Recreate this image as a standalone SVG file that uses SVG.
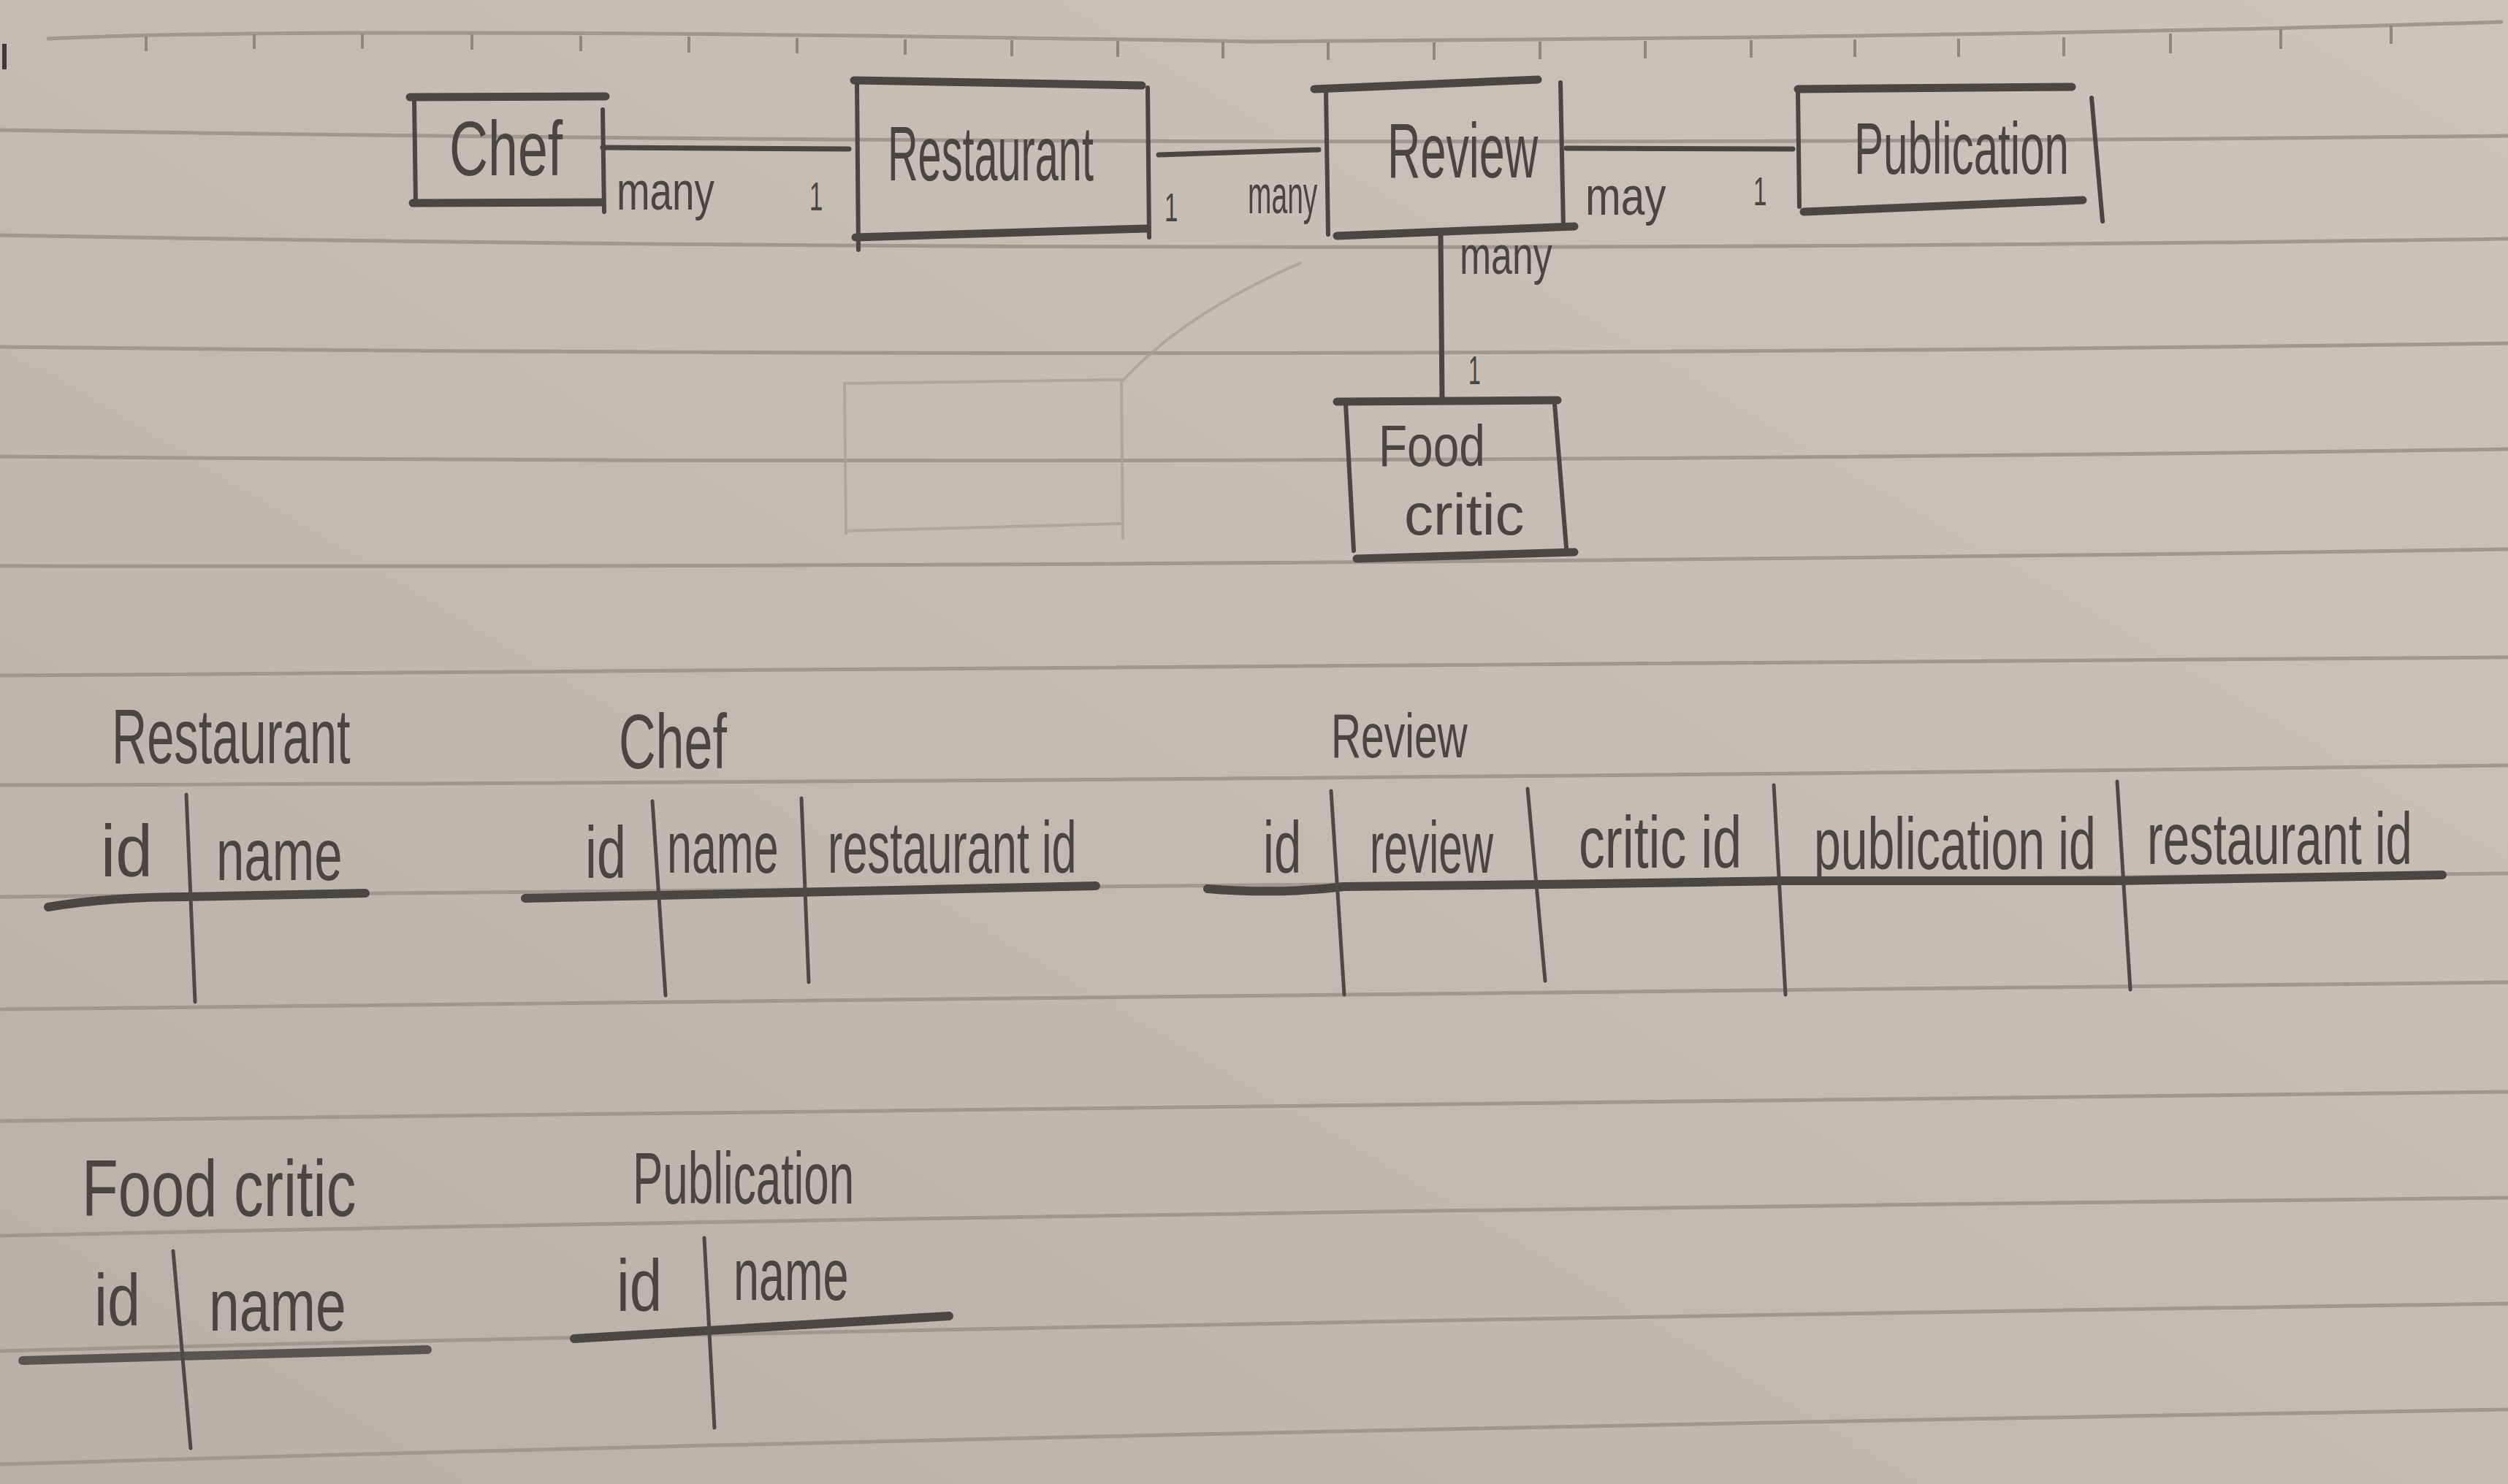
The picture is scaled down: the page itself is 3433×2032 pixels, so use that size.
<svg xmlns="http://www.w3.org/2000/svg" width="3433" height="2032" viewBox="0 0 3433 2032">
<defs>
<linearGradient id="paper" x1="1" y1="0" x2="0" y2="1">
<stop offset="0" stop-color="#ccc5bb"/>
<stop offset="0.5" stop-color="#c3bcb2"/>
<stop offset="1" stop-color="#b8b1a7"/>
</linearGradient>
<style>
.rule{fill:none;stroke:#9f988e;stroke-width:5;stroke-linecap:round}
.tick{stroke:#8f887f;stroke-width:4}
.edge{fill:none;stroke:#4b4641;stroke-width:11;stroke-linecap:round}
.side{fill:none;stroke:#4b4641;stroke-width:6;stroke-linecap:round}
.conn{fill:none;stroke:#4b4641;stroke-width:7;stroke-linecap:round}
.faint{fill:none;stroke:#a8a197;stroke-width:4;stroke-linecap:round}
.hline{fill:none;stroke:#4b4641;stroke-width:12;stroke-linecap:round}
.vline{fill:none;stroke:#4e4944;stroke-width:5;stroke-linecap:round}
text{font-family:"Liberation Sans",Arial,sans-serif;fill:#4a4540;}
.lbl{font-size:75px}
.one{font-size:55px}
.ttl{font-size:105px}
.hd{font-size:100px}
</style>
</defs>
<rect width="3433" height="2032" fill="url(#paper)"/>
<g id="paper-lines">
<path class="rule" d="M66,53 Q438,35 1716,57 Q2811,50 3424,30"/>
<g>
<line class="tick" x1="200" y1="50" x2="200" y2="70"/><line class="tick" x1="348" y1="47" x2="348" y2="67"/><line class="tick" x1="496" y1="46" x2="496" y2="67"/><line class="tick" x1="646" y1="47" x2="646" y2="68"/><line class="tick" x1="795" y1="49" x2="795" y2="70"/><line class="tick" x1="943" y1="50" x2="943" y2="72"/><line class="tick" x1="1091" y1="52" x2="1091" y2="73"/><line class="tick" x1="1239" y1="54" x2="1239" y2="75"/><line class="tick" x1="1385" y1="55" x2="1385" y2="77"/><line class="tick" x1="1530" y1="56" x2="1530" y2="78"/><line class="tick" x1="1674" y1="57" x2="1674" y2="80"/><line class="tick" x1="1818" y1="58" x2="1818" y2="82"/><line class="tick" x1="1963" y1="58" x2="1963" y2="82"/><line class="tick" x1="2108" y1="57" x2="2108" y2="81"/><line class="tick" x1="2252" y1="56" x2="2252" y2="80"/><line class="tick" x1="2397" y1="55" x2="2397" y2="79"/><line class="tick" x1="2539" y1="54" x2="2539" y2="78"/><line class="tick" x1="2681" y1="53" x2="2681" y2="78"/><line class="tick" x1="2825" y1="51" x2="2825" y2="77"/><line class="tick" x1="2971" y1="46" x2="2971" y2="73"/><line class="tick" x1="3122" y1="40" x2="3122" y2="67"/><line class="tick" x1="3273" y1="35" x2="3273" y2="60"/>
</g>
<path class="rule" d="M0,178 Q1700,205 3433,186"/>
<path class="rule" d="M0,322 Q1700,352 3433,327"/>
<path class="rule" d="M0,475 Q1700,494 3433,470"/>
<path class="rule" d="M0,625 Q1700,640 3433,615"/>
<path class="rule" d="M0,775 Q1700,778 3433,752"/>
<path class="rule" d="M0,925 Q1700,920 3433,900"/>
<path class="rule" d="M0,1075 Q1700,1070 3433,1048"/>
<path class="rule" d="M0,1228 Q1700,1216 3433,1196"/>
<path class="rule" d="M0,1382 Q1700,1362 3433,1345"/>
<path class="rule" d="M0,1535 Q1700,1510 3433,1495"/>
<path class="rule" d="M0,1692 Q1400,1662 3433,1640"/>
<path class="rule" d="M0,1850 Q1400,1814 3433,1785"/>
<path class="rule" d="M0,2005 Q1400,1964 3433,1930"/>
<line x1="6" y1="60" x2="6" y2="95" stroke="#3f3a36" stroke-width="6"/>
</g>
<g id="erased" opacity="0.8">
<path class="faint" d="M1156,525 L1535,520 M1156,525 L1158,730 M1535,523 L1537,737 M1158,727 L1533,717 M1535,523 Q1620,430 1780,360"/>
</g>
<g id="connectors">
<path class="conn" d="M825,202 L1162,204"/>
<path class="conn" d="M1586,212 L1805,205"/>
<path class="conn" d="M2144,203 L2454,204"/>
<path class="conn" d="M1972,321 L1974,549"/>
<text class="lbl" transform="translate(844,287) scale(0.73,1)">many</text>
<text class="one" transform="translate(1108,288) scale(0.6,1)">1</text>
<text class="one" transform="translate(1594,303) scale(0.6,1)">1</text>
<text class="lbl" transform="translate(1708,292) scale(0.52,1)">many</text>
<text class="lbl" transform="translate(2170,294) scale(0.78,1)">may</text>
<text class="one" transform="translate(2400,281) scale(0.6,1)">1</text>
<text class="lbl" transform="translate(1998,375) scale(0.69,1)">many</text>
<text class="one" transform="translate(2010,526) scale(0.55,1)">1</text>
</g>
<g id="node-chef">
<path class="edge" d="M561,133 L829,132"/>
<path class="edge" d="M565,278 L823,277"/>
<path class="side" d="M567,135 L569,280"/>
<path class="side" d="M825,150 L827,290"/>
<text class="ttl" transform="translate(615,240) scale(0.70,1)">Chef</text>
</g>
<g id="node-restaurant">
<path class="edge" d="M1169,110 L1563,117"/>
<path class="edge" d="M1171,325 L1569,313"/>
<path class="side" d="M1173,112 L1175,342"/>
<path class="side" d="M1571,120 L1573,325"/>
<text class="ttl" transform="translate(1215,247) scale(0.549,1)">Restaurant</text>
</g>
<g id="node-review">
<path class="edge" d="M1799,122 L2105,109"/>
<path class="edge" d="M1830,323 L2155,310"/>
<path class="side" d="M1815,125 L1818,321"/>
<path class="side" d="M2136,113 L2140,312"/>
<text class="ttl" transform="translate(1899,243) scale(0.599,1)">Review</text>
</g>
<g id="node-publication">
<path class="edge" d="M2461,122 L2836,119"/>
<path class="edge" d="M2469,290 L2851,274"/>
<path class="side" d="M2461,125 L2463,283"/>
<path class="side" d="M2863,134 L2878,303"/>
<text class="ttl" style="font-size:100px" transform="translate(2538,238) scale(0.601,1)">Publication</text>
</g>
<g id="node-food-critic">
<path class="edge" d="M1830,550 L2132,548"/>
<path class="edge" d="M1857,765 L2155,756"/>
<path class="side" d="M1842,553 L1853,754"/>
<path class="side" d="M2128,553 L2144,750"/>
<text class="ttl" style="font-size:80px" transform="translate(1887,638) scale(0.80,1)">Food</text>
<text class="ttl" style="font-size:80px" transform="translate(1922,732) scale(1.0,1)">critic</text>
</g>
<g id="table-restaurant">
<text class="ttl" transform="translate(153,1045) scale(0.636,1)">Restaurant</text>
<text class="hd" transform="translate(138,1200) scale(0.91,1)">id</text>
<text class="hd" transform="translate(296,1205) scale(0.69,1)">name</text>
<path class="hline" d="M66,1242 Q150,1228 255,1228 L500,1223"/>
<path class="vline" d="M255,1088 L267,1372"/>
</g>
<g id="table-chef">
<text class="ttl" transform="translate(847,1052) scale(0.667,1)">Chef</text>
<text class="hd" transform="translate(801,1202) scale(0.72,1)">id</text>
<text class="hd" transform="translate(913,1195) scale(0.61,1)">name</text>
<text class="hd" transform="translate(1133,1195) scale(0.613,1)">restaurant id</text>
<path class="hline" d="M719,1230 L1500,1213"/>
<path class="vline" d="M893,1097 L911,1363"/>
<path class="vline" d="M1097,1093 L1107,1345"/>
</g>
<g id="table-review">
<text class="ttl" style="font-size:85px" transform="translate(1822,1037) scale(0.67,1)">Review</text>
<text class="hd" transform="translate(1729,1195) scale(0.67,1)">id</text>
<text class="hd" transform="translate(1875,1195) scale(0.585,1)">review</text>
<text class="hd" transform="translate(2161,1188) scale(0.717,1)">critic id</text>
<text class="hd" transform="translate(2483,1190) scale(0.661,1)">publication id</text>
<text class="hd" transform="translate(2939,1183) scale(0.653,1)">restaurant id</text>
<path class="hline" d="M1653,1217 Q1750,1225 1840,1214 Q2100,1212 2440,1206 L2900,1206 L3343,1198"/>
<path class="vline" d="M1822,1083 L1840,1362"/>
<path class="vline" d="M2091,1080 L2115,1343"/>
<path class="vline" d="M2428,1075 L2444,1362"/>
<path class="vline" d="M2898,1070 L2916,1355"/>
</g>
<g id="table-food-critic">
<text class="ttl" style="font-size:110px" transform="translate(112,1665) scale(0.74,1)">Food critic</text>
<text class="hd" transform="translate(129,1815) scale(0.81,1)">id</text>
<text class="hd" transform="translate(286,1822) scale(0.75,1)">name</text>
<path class="hline" d="M31,1863 L241,1857 L585,1848" style="stroke:#5a5550"/>
<path class="vline" d="M237,1713 L261,1983"/>
</g>
<g id="table-publication">
<text class="ttl" style="font-size:100px" transform="translate(866,1648) scale(0.62,1)">Publication</text>
<text class="hd" transform="translate(844,1795) scale(0.80,1)">id</text>
<text class="hd" transform="translate(1004,1780) scale(0.63,1)">name</text>
<path class="hline" d="M786,1833 L1299,1802"/>
<path class="vline" d="M964,1695 L978,1955"/>
</g>
</svg>
